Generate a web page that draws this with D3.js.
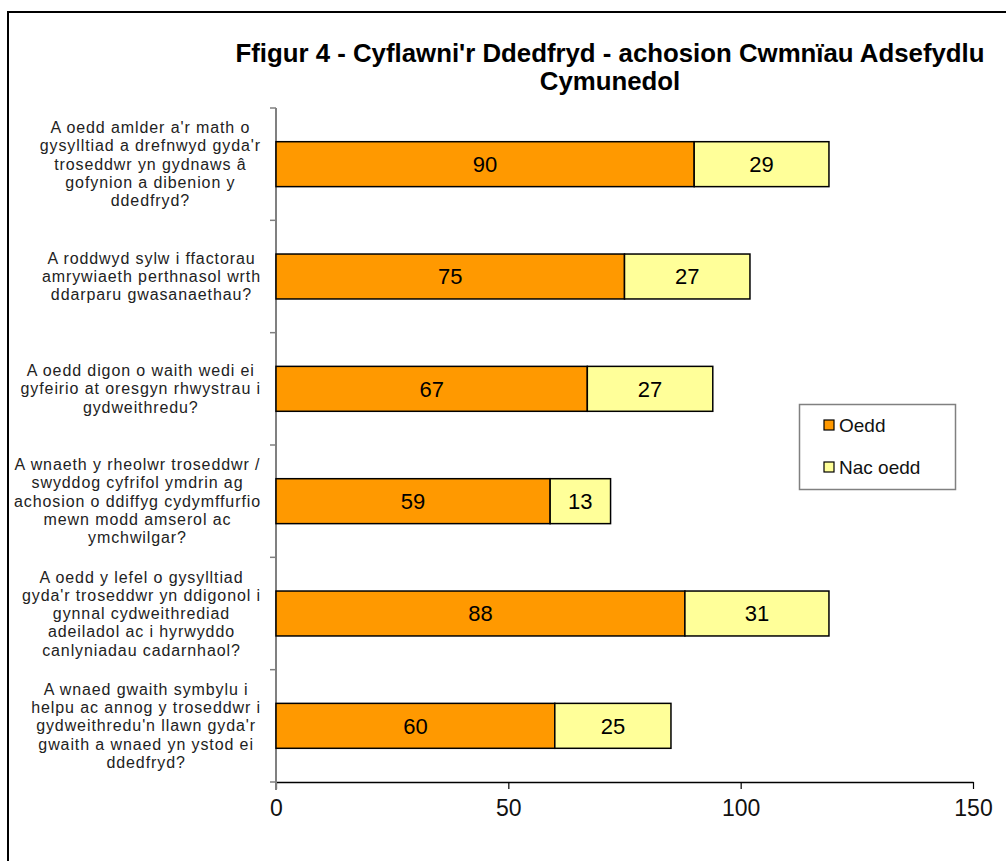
<!DOCTYPE html>
<html>
<head>
<meta charset="utf-8">
<script src="https://cdn.jsdelivr.net/npm/d3@7"></script>
<style>
  body { margin: 0; background: #fff; }
  svg { display: block; font-family: "Liberation Sans", Arial, sans-serif; }
</style>
</head>
<body>
<svg id="chart" width="1006" height="861"></svg>
<script>
const titleLines = ["Ffigur 4 - Cyflawni'r Ddedfryd - achosion Cwmnïau Adsefydlu", "Cymunedol"];
const categoryLines = [
  ["A oedd amlder a'r math o", "gysylltiad a drefnwyd gyda'r", "troseddwr yn gydnaws â", "gofynion a dibenion y", "ddedfryd?"],
  ["A roddwyd sylw i ffactorau", "amrywiaeth perthnasol wrth", "ddarparu gwasanaethau?"],
  ["A oedd digon o waith wedi ei", "gyfeirio at oresgyn rhwystrau i", "gydweithredu?"],
  ["A wnaeth y rheolwr troseddwr /", "swyddog cyfrifol ymdrin ag", "achosion o ddiffyg cydymffurfio", "mewn modd amserol ac", "ymchwilgar?"],
  ["A oedd y lefel o gysylltiad", "gyda'r troseddwr yn ddigonol i", "gynnal cydweithrediad", "adeiladol ac i hyrwyddo", "canlyniadau cadarnhaol?"],
  ["A wnaed gwaith symbylu i", "helpu ac annog y troseddwr i", "gydweithredu'n llawn gyda'r", "gwaith a wnaed yn ystod ei", "ddedfryd?"]
];
const seriesNames = ["Oedd", "Nac oedd"];
const oedd = [90, 75, 67, 59, 88, 60];
const nacOedd = [29, 27, 27, 13, 31, 25];
const xTicks = [0, 50, 100, 150];
const colors = ["#FF9900", "#FFFF99"];

const svg = d3.select("#chart");
const plot = { left: 276, right: 973, top: 108, bottom: 782 };

// outer frame
svg.append("rect").attr("x", 8).attr("y", 12).attr("width", 1020).attr("height", 880)
  .attr("fill", "none").attr("stroke", "#000").attr("stroke-width", 2);

// title
const title = svg.append("text").attr("text-anchor", "middle")
  .attr("font-weight", "bold").attr("font-size", 25.8).attr("fill", "#000");
titleLines.forEach((t, i) => {
  title.append("tspan").attr("x", 610).attr("y", 62 + i * 28).text(t);
});

const idx = d3.range(oedd.length);
const y = d3.scaleBand().domain(idx).range([plot.top, plot.bottom])
  .paddingInner(0.6).paddingOuter(0.3);
const x = d3.scaleLinear().domain([0, 150]).range([plot.left, plot.right]);

const table = idx.map(i => ({ i, Oedd: oedd[i], "Nac oedd": nacOedd[i] }));
const stacked = d3.stack().keys(seriesNames)(table);

// x axis
const xAxis = svg.append("g").attr("transform", `translate(0,${plot.bottom})`)
  .call(d3.axisBottom(x).tickValues(xTicks).tickSize(7).tickSizeOuter(0));
xAxis.select(".domain").attr("stroke", "#000").attr("stroke-width", 1.5);
xAxis.selectAll(".tick line").attr("stroke", "#000").attr("stroke-width", 1.2);
xAxis.selectAll(".tick text").attr("font-size", 23).attr("fill", "#111")
  .attr("font-family", "Liberation Sans, Arial, sans-serif").attr("dy", "1.05em");

// y axis (category boundaries)
const boundaries = d3.range(oedd.length + 1).map(k => plot.top + k * (plot.bottom - plot.top) / oedd.length);
const yAxis = svg.append("g");
yAxis.append("line").attr("x1", plot.left).attr("x2", plot.left)
  .attr("y1", plot.top).attr("y2", plot.bottom + 8)
  .attr("stroke", "#808080").attr("stroke-width", 2);
yAxis.selectAll("line.tk").data(boundaries).join("line").attr("class", "tk")
  .attr("x1", plot.left - 6).attr("x2", plot.left)
  .attr("y1", d => d).attr("y2", d => d)
  .attr("stroke", "#808080").attr("stroke-width", 1.5);

// bars
const groups = svg.append("g").selectAll("g").data(stacked).join("g")
  .attr("fill", (d, k) => colors[k]);
groups.selectAll("rect").data(d => d).join("rect")
  .attr("x", d => x(d[0]))
  .attr("y", d => y(d.data.i))
  .attr("width", d => x(d[1]) - x(d[0]))
  .attr("height", y.bandwidth())
  .attr("stroke", "#000").attr("stroke-width", 1.5);

// value labels
groups.selectAll("text").data(d => d.map(v => ({ v, key: d.key }))).join("text")
  .attr("x", d => (x(d.v[0]) + x(d.v[1])) / 2)
  .attr("y", d => y(d.v.data.i) + y.bandwidth() / 2)
  .attr("dy", "0.36em")
  .attr("text-anchor", "middle").attr("font-size", 22).attr("fill", "#000")
  .text(d => d.v.data[d.key]);

// category labels: each block right-aligned near the axis, lines centred in the block
const lineH = 18.3;
const labelRight = 261;
const catG = svg.append("g");
categoryLines.forEach((lines, i) => {
  const cy = y(i) + y.bandwidth() / 2;
  const t = catG.append("text").attr("text-anchor", "middle")
    .attr("font-size", 16).attr("letter-spacing", 0.9).attr("fill", "#222");
  const spans = lines.map((l, j) => t.append("tspan").attr("x", 0)
      .attr("y", cy + (j - (lines.length - 1) / 2) * lineH)
      .attr("dy", "0.35em").text(l));
  const maxW = d3.max(spans, s => s.node().getComputedTextLength());
  spans.forEach(s => s.attr("x", labelRight - maxW / 2));
});

// legend
const lg = svg.append("g");
lg.append("rect").attr("x", 799.5).attr("y", 404.5).attr("width", 156).attr("height", 85)
  .attr("fill", "#fff").attr("stroke", "#808080").attr("stroke-width", 1.5);
seriesNames.forEach((name, k) => {
  const cy = 425 + k * 42;
  lg.append("rect").attr("x", 824).attr("y", cy - 5).attr("width", 10).attr("height", 10)
    .attr("fill", colors[k]).attr("stroke", "#000").attr("stroke-width", 1.2);
  lg.append("text").attr("x", 839).attr("y", cy).attr("dy", "0.36em")
    .attr("font-size", 19).attr("fill", "#111").text(name);
});
</script>
</body>
</html>
